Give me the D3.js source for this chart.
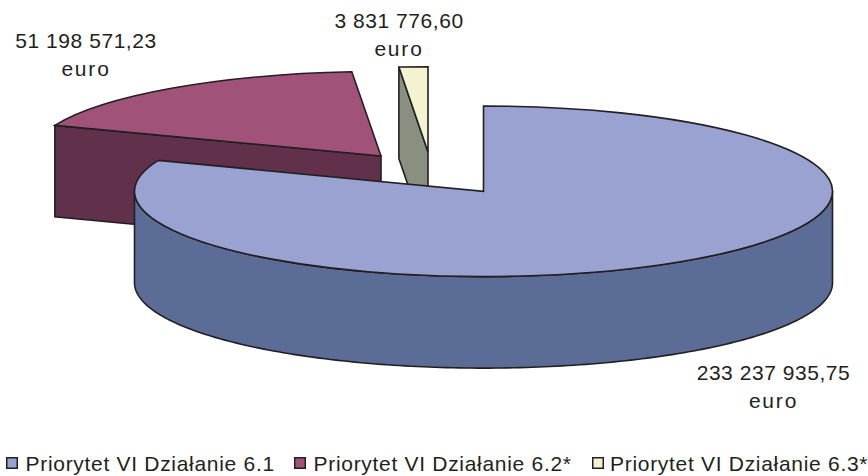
<!DOCTYPE html>
<html><head><meta charset="utf-8">
<script src="https://cdn.jsdelivr.net/npm/d3@7/dist/d3.min.js"></script>
<style>html,body{margin:0;background:#fff}svg{display:block}text{font-family:"Liberation Sans",Arial,sans-serif;fill:#231f20}</style>
</head><body><svg id="c" width="868" height="476"></svg>
<script>
const categories=["Priorytet VI Działanie 6.1","Priorytet VI Działanie 6.2*","Priorytet VI Działanie 6.3*"];
const values=[233237935.75,51198571.23,3831776.60];
const valueLabels=["233 237 935,75","51 198 571,23","3 831 776,60"];
const unit="euro";
const topColors=["#99a2d1","#a05278","#f3f2d1"];
const sideColors=["#5b6d96","#61304b","#8a9080"];
const apexX=[483.5,381,428], apexY=[191.3,156,152];
const radX=[349,350,349], radY=[85.3,84.5,85.3];
const labelX=[773.5,86,399], labelY=[380,48,27.5];
const legendX=[6.75,294.75,592.75], legendTextX=[25.5,313.5,610];

const depth=91.5, stroke="#231f20", sw=1.6;
const svg=d3.select("#c");
const arcs=d3.pie().sort(null).value(d=>d)(values);
const pt=(i,a,dy=0)=>[apexX[i]+radX[i]*Math.sin(a),apexY[i]-radY[i]*Math.cos(a)+dy];
const line=d3.line();

function wallCut(i,a){ // flat cut face running from the apex to the rim at angle a
  const p=pt(i,a),q=[apexX[i],apexY[i]];
  return line([p,q,[q[0],q[1]+depth],[p[0],p[1]+depth]])+"Z";
}
function drawTop(i){
  const arc=d3.arc().innerRadius(0).outerRadius(radX[i]);
  svg.append("path")
    .attr("transform",`translate(${apexX[i]},${apexY[i]}) scale(1,${radY[i]/radX[i]})`)
    .attr("d",arc(arcs[i]))
    .attr("fill",topColors[i]).attr("stroke",stroke).attr("stroke-width",sw)
    .attr("vector-effect","non-scaling-stroke").attr("stroke-linejoin","miter");
}
function wall(i,d){
  svg.append("path").attr("d",d).attr("fill",sideColors[i])
    .attr("stroke",stroke).attr("stroke-width",sw);
}
// back slices: cut face then top
wall(1,wallCut(1,arcs[1].startAngle)); drawTop(1);
wall(2,wallCut(2,arcs[2].startAngle)); drawTop(2);
// main slice: rim wall across the front half, then top
const ang=d3.range(0,181).map(k=>Math.PI/2+k*Math.PI/180);
const rim=ang.map(a=>pt(0,a)).concat(ang.slice().reverse().map(a=>pt(0,a,depth)));
wall(0,line(rim)+"Z");
drawTop(0);

// value labels
values.forEach((v,i)=>{
  const t=svg.append("text").attr("text-anchor","middle").attr("font-size",21).attr("letter-spacing",0.55);
  t.append("tspan").attr("x",labelX[i]).attr("y",labelY[i]).text(valueLabels[i]);
  t.append("tspan").attr("x",labelX[i]).attr("y",labelY[i]+28).attr("letter-spacing",1.8).text(unit);
});
// legend
categories.forEach((c,i)=>{
  svg.append("rect").attr("x",legendX[i]).attr("y",457.75).attr("width",10.5).attr("height",10.5)
    .attr("fill",topColors[i]).attr("stroke",stroke).attr("stroke-width",1.5);
  svg.append("text").attr("x",legendTextX[i]).attr("y",471).attr("font-size",21).attr("letter-spacing",0.7).text(c);
});
</script></body></html>
